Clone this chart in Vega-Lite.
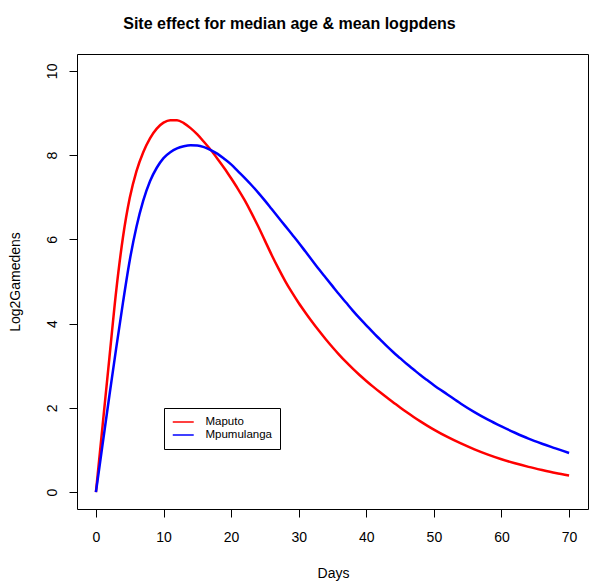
{
  "$schema": "https://vega.github.io/schema/vega-lite/v6.json",
  "width": 511,
  "height": 455,
  "autosize": {"type": "none"},
  "padding": {"left": 77, "top": 54, "right": 12, "bottom": 79},
  "background": "white",
  "config": {
    "font": "Liberation Sans",
    "view": {"stroke": "black", "strokeWidth": 1},
    "axis": {"domain": false, "grid": false, "tickColor": "black", "tickSize": 8, "labelColor": "black", "titleColor": "black", "labelFontSize": 14, "titleFontSize": 14, "titleFontWeight": "normal", "labelFont": "Liberation Sans", "titleFont": "Liberation Sans"}
  },
  "title": {"text": "Site effect for median age & mean logpdens", "fontSize": 16, "fontWeight": "bold", "font": "Liberation Sans", "anchor": "middle", "dx": -43, "baseline": "alphabetic", "offset": 9, "color": "black"},
  "data": {"values": [
    {"site": "Maputo", "day": 0, "v": 0},
    {"site": "Maputo", "day": 1, "v": 1.6},
    {"site": "Maputo", "day": 2, "v": 3.2},
    {"site": "Maputo", "day": 3, "v": 4.78},
    {"site": "Maputo", "day": 4, "v": 6.05},
    {"site": "Maputo", "day": 5, "v": 6.98},
    {"site": "Maputo", "day": 6, "v": 7.62},
    {"site": "Maputo", "day": 7, "v": 8.07},
    {"site": "Maputo", "day": 8, "v": 8.4},
    {"site": "Maputo", "day": 9, "v": 8.63},
    {"site": "Maputo", "day": 10, "v": 8.77},
    {"site": "Maputo", "day": 11, "v": 8.83},
    {"site": "Maputo", "day": 12, "v": 8.83},
    {"site": "Maputo", "day": 13, "v": 8.76},
    {"site": "Maputo", "day": 14, "v": 8.64},
    {"site": "Maputo", "day": 15, "v": 8.49},
    {"site": "Maputo", "day": 16, "v": 8.31},
    {"site": "Maputo", "day": 17, "v": 8.12},
    {"site": "Maputo", "day": 18, "v": 7.91},
    {"site": "Maputo", "day": 19, "v": 7.69},
    {"site": "Maputo", "day": 20, "v": 7.45},
    {"site": "Maputo", "day": 21, "v": 7.2},
    {"site": "Maputo", "day": 22, "v": 6.93},
    {"site": "Maputo", "day": 23, "v": 6.63},
    {"site": "Maputo", "day": 24, "v": 6.31},
    {"site": "Maputo", "day": 25, "v": 5.97},
    {"site": "Maputo", "day": 26, "v": 5.63},
    {"site": "Maputo", "day": 27, "v": 5.31},
    {"site": "Maputo", "day": 28, "v": 5.01},
    {"site": "Maputo", "day": 29, "v": 4.74},
    {"site": "Maputo", "day": 30, "v": 4.49},
    {"site": "Maputo", "day": 31, "v": 4.26},
    {"site": "Maputo", "day": 32, "v": 4.04},
    {"site": "Maputo", "day": 33, "v": 3.83},
    {"site": "Maputo", "day": 34, "v": 3.63},
    {"site": "Maputo", "day": 35, "v": 3.44},
    {"site": "Maputo", "day": 36, "v": 3.26},
    {"site": "Maputo", "day": 37, "v": 3.09},
    {"site": "Maputo", "day": 38, "v": 2.93},
    {"site": "Maputo", "day": 39, "v": 2.78},
    {"site": "Maputo", "day": 40, "v": 2.64},
    {"site": "Maputo", "day": 41, "v": 2.505},
    {"site": "Maputo", "day": 42, "v": 2.375},
    {"site": "Maputo", "day": 43, "v": 2.25},
    {"site": "Maputo", "day": 44, "v": 2.13},
    {"site": "Maputo", "day": 45, "v": 2.01},
    {"site": "Maputo", "day": 46, "v": 1.895},
    {"site": "Maputo", "day": 47, "v": 1.785},
    {"site": "Maputo", "day": 48, "v": 1.68},
    {"site": "Maputo", "day": 49, "v": 1.58},
    {"site": "Maputo", "day": 50, "v": 1.485},
    {"site": "Maputo", "day": 52, "v": 1.31},
    {"site": "Maputo", "day": 54, "v": 1.155},
    {"site": "Maputo", "day": 56, "v": 1.015},
    {"site": "Maputo", "day": 58, "v": 0.89},
    {"site": "Maputo", "day": 60, "v": 0.78},
    {"site": "Maputo", "day": 62, "v": 0.685},
    {"site": "Maputo", "day": 64, "v": 0.6},
    {"site": "Maputo", "day": 66, "v": 0.525},
    {"site": "Maputo", "day": 68, "v": 0.455},
    {"site": "Maputo", "day": 70, "v": 0.395},
    {"site": "Mpumulanga", "day": 0, "v": 0},
    {"site": "Mpumulanga", "day": 1, "v": 1.15},
    {"site": "Mpumulanga", "day": 2, "v": 2.3},
    {"site": "Mpumulanga", "day": 3, "v": 3.42},
    {"site": "Mpumulanga", "day": 4, "v": 4.5},
    {"site": "Mpumulanga", "day": 5, "v": 5.5},
    {"site": "Mpumulanga", "day": 6, "v": 6.3},
    {"site": "Mpumulanga", "day": 7, "v": 6.92},
    {"site": "Mpumulanga", "day": 8, "v": 7.38},
    {"site": "Mpumulanga", "day": 9, "v": 7.7},
    {"site": "Mpumulanga", "day": 10, "v": 7.93},
    {"site": "Mpumulanga", "day": 11, "v": 8.07},
    {"site": "Mpumulanga", "day": 12, "v": 8.16},
    {"site": "Mpumulanga", "day": 13, "v": 8.21},
    {"site": "Mpumulanga", "day": 14, "v": 8.235},
    {"site": "Mpumulanga", "day": 15, "v": 8.23},
    {"site": "Mpumulanga", "day": 16, "v": 8.19},
    {"site": "Mpumulanga", "day": 17, "v": 8.12},
    {"site": "Mpumulanga", "day": 18, "v": 8.03},
    {"site": "Mpumulanga", "day": 19, "v": 7.91},
    {"site": "Mpumulanga", "day": 20, "v": 7.78},
    {"site": "Mpumulanga", "day": 21, "v": 7.62},
    {"site": "Mpumulanga", "day": 22, "v": 7.46},
    {"site": "Mpumulanga", "day": 23, "v": 7.29},
    {"site": "Mpumulanga", "day": 24, "v": 7.11},
    {"site": "Mpumulanga", "day": 25, "v": 6.92},
    {"site": "Mpumulanga", "day": 26, "v": 6.72},
    {"site": "Mpumulanga", "day": 27, "v": 6.52},
    {"site": "Mpumulanga", "day": 28, "v": 6.32},
    {"site": "Mpumulanga", "day": 29, "v": 6.12},
    {"site": "Mpumulanga", "day": 30, "v": 5.92},
    {"site": "Mpumulanga", "day": 31, "v": 5.71},
    {"site": "Mpumulanga", "day": 32, "v": 5.5},
    {"site": "Mpumulanga", "day": 33, "v": 5.29},
    {"site": "Mpumulanga", "day": 34, "v": 5.09},
    {"site": "Mpumulanga", "day": 35, "v": 4.89},
    {"site": "Mpumulanga", "day": 36, "v": 4.69},
    {"site": "Mpumulanga", "day": 37, "v": 4.5},
    {"site": "Mpumulanga", "day": 38, "v": 4.31},
    {"site": "Mpumulanga", "day": 39, "v": 4.13},
    {"site": "Mpumulanga", "day": 40, "v": 3.96},
    {"site": "Mpumulanga", "day": 41, "v": 3.79},
    {"site": "Mpumulanga", "day": 42, "v": 3.63},
    {"site": "Mpumulanga", "day": 43, "v": 3.47},
    {"site": "Mpumulanga", "day": 44, "v": 3.32},
    {"site": "Mpumulanga", "day": 45, "v": 3.18},
    {"site": "Mpumulanga", "day": 46, "v": 3.04},
    {"site": "Mpumulanga", "day": 47, "v": 2.91},
    {"site": "Mpumulanga", "day": 48, "v": 2.78},
    {"site": "Mpumulanga", "day": 49, "v": 2.66},
    {"site": "Mpumulanga", "day": 50, "v": 2.54},
    {"site": "Mpumulanga", "day": 52, "v": 2.32},
    {"site": "Mpumulanga", "day": 54, "v": 2.1},
    {"site": "Mpumulanga", "day": 56, "v": 1.9},
    {"site": "Mpumulanga", "day": 58, "v": 1.72},
    {"site": "Mpumulanga", "day": 60, "v": 1.56},
    {"site": "Mpumulanga", "day": 62, "v": 1.41},
    {"site": "Mpumulanga", "day": 64, "v": 1.27},
    {"site": "Mpumulanga", "day": 66, "v": 1.15},
    {"site": "Mpumulanga", "day": 68, "v": 1.04},
    {"site": "Mpumulanga", "day": 70, "v": 0.93}
  ]},
  "mark": {"type": "line", "strokeWidth": 2.5, "interpolate": "monotone", "clip": true},
  "encoding": {
    "x": {"field": "day", "type": "quantitative", "scale": {"domain": [-2.8, 72.8], "nice": false, "zero": false},
      "axis": {"values": [0, 10, 20, 30, 40, 50, 60, 70], "title": "Days", "labelPadding": 13, "titleBaseline": "alphabetic", "titleY": 68, "titleX": 256, "titleAlign": "center"}},
    "y": {"field": "v", "type": "quantitative", "scale": {"domain": [-0.4, 10.4], "nice": false, "zero": false},
      "axis": {"values": [0, 2, 4, 6, 8, 10], "title": "Log2Gamedens", "labelAngle": 270, "labelAlign": "center", "labelBaseline": "alphabetic", "labelPadding": 13, "titleAngle": 270, "titleBaseline": "alphabetic", "titleAlign": "center", "titleX": -58, "titleY": 227.5}},
    "color": {"field": "site", "type": "nominal", "scale": {"domain": ["Maputo", "Mpumulanga"], "range": ["#ff0000", "#0000ff"]},
      "legend": {"title": null, "orient": "none", "legendX": 87, "legendY": 354, "symbolType": "M-1,0H3", "symbolStrokeWidth": 1.5, "symbolSize": 110, "labelFontSize": 11.5, "labelFont": "Liberation Sans", "labelColor": "black", "labelOffset": 21.5, "strokeColor": "black", "fillColor": "white", "padding": 8, "cornerRadius": 0, "rowPadding": 1}}
  }
}
